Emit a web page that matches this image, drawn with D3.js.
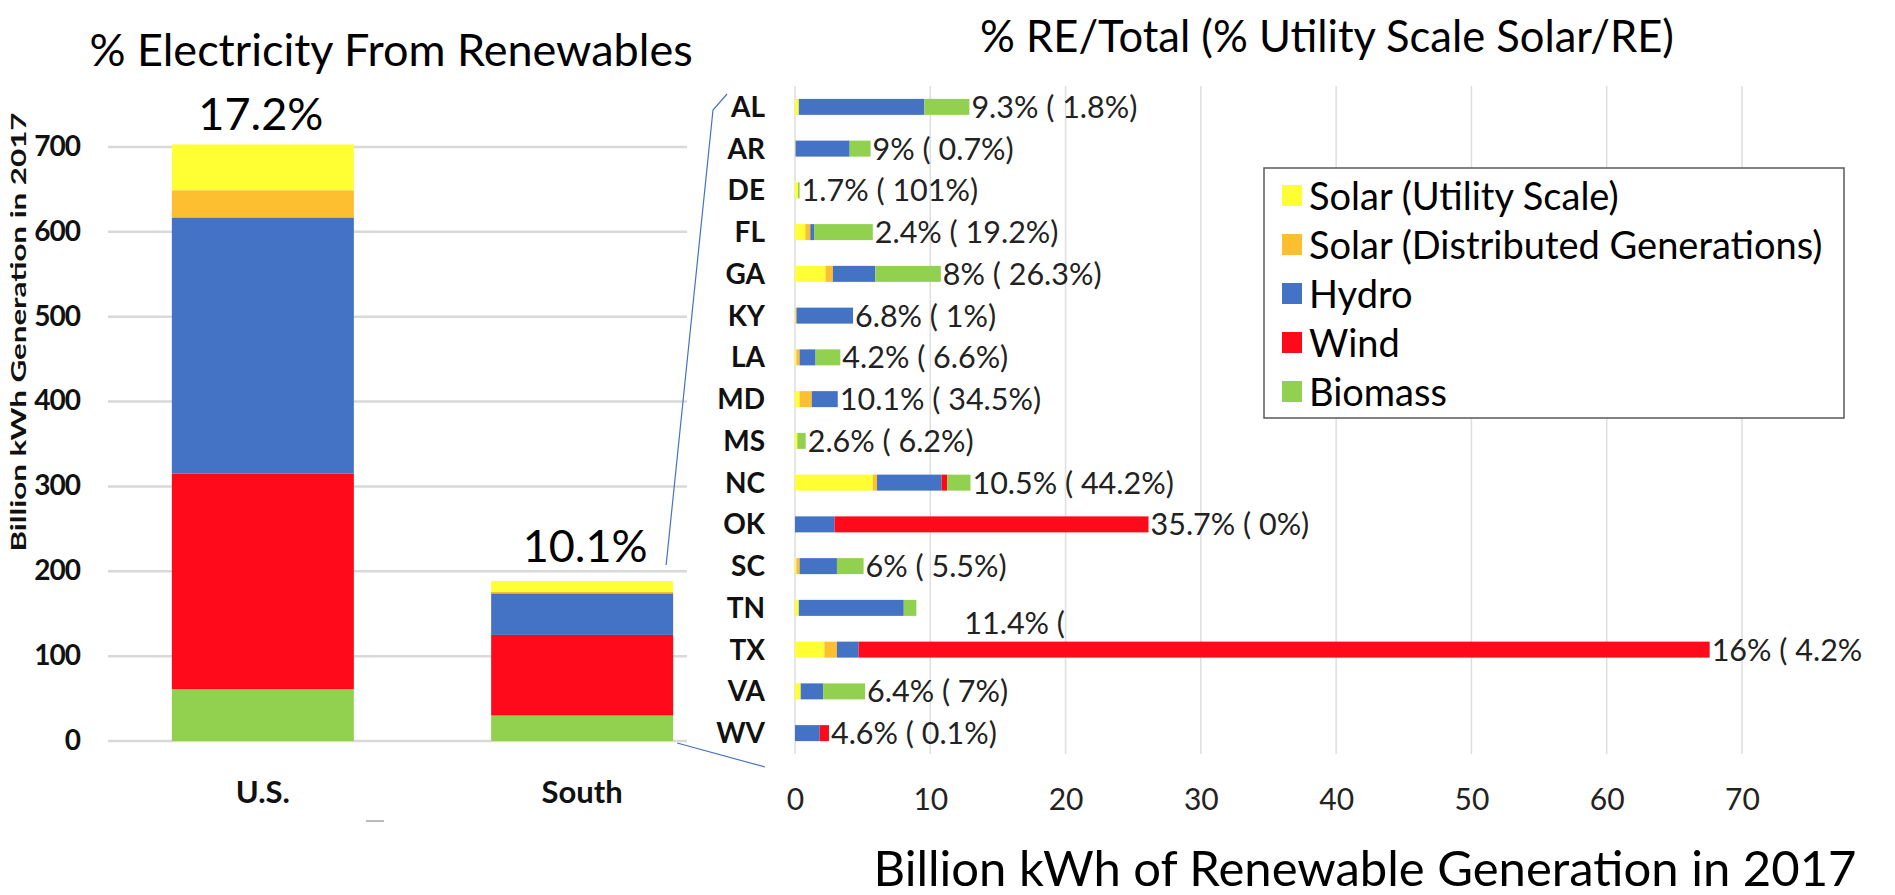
<!DOCTYPE html>
<html>
<head>
<meta charset="utf-8">
<script src="https://cdn.jsdelivr.net/npm/d3@7"></script>
<style>
  body { margin: 0; background: #fff; }
  text { font-family: Lato, "Open Sans", sans-serif; }
</style>
</head>
<body>
<div id="chart"></div>
<script>
// series (drawing order for the state bars, left to right)
var seriesNames = ["Solar (Utility Scale)", "Solar (Distributed Generations)", "Hydro", "Wind", "Biomass"];
var seriesColors = ["#FFFF33", "#FDBE30", "#4472C4", "#FF0A1A", "#92D050"];

// left chart: U.S. vs South, billion kWh
var regions = ["U.S.", "South"];
var regionSolarU = [54, 12.5];
var regionSolarDG = [32, 2];
var regionHydro = [302, 49];
var regionWind = [254, 95];
var regionBiomass = [61, 30];
var regionLabels = ["17.2%", "10.1%"];
var leftTicks = [0, 100, 200, 300, 400, 500, 600, 700];

// right chart: southern states, billion kWh
var states = ["AL", "AR", "DE", "FL", "GA", "KY", "LA", "MD", "MS", "NC", "OK", "SC", "TN", "TX", "VA", "WV"];
var stateSolarU = [0.28, 0.04, 0.22, 0.76, 2.26, 0.05, 0.1, 0.34, 0.17, 5.75, 0, 0.1, 0.28, 2.17, 0.42, 0];
var stateSolarDG = [0, 0, 0, 0.37, 0.54, 0.06, 0.24, 0.9, 0, 0.31, 0, 0.24, 0, 0.93, 0, 0];
var stateHydro = [9.28, 4.0, 0, 0.28, 3.13, 4.18, 1.18, 1.92, 0, 4.77, 2.93, 2.76, 7.76, 1.61, 1.66, 1.83];
var stateWind = [0, 0, 0, 0, 0, 0, 0, 0, 0, 0.42, 23.2, 0, 0, 62.9, 0, 0.68];
var stateBiomass = [3.33, 1.55, 0.12, 4.34, 4.85, 0, 1.83, 0, 0.62, 1.72, 0, 1.97, 0.93, 0, 3.1, 0];
var stateLabels = ["9.3% ( 1.8%)", "9% ( 0.7%)", "1.7% ( 101%)", "2.4% ( 19.2%)", "8% ( 26.3%)",
  "6.8% ( 1%)", "4.2% ( 6.6%)", "10.1% ( 34.5%)", "2.6% ( 6.2%)", "10.5% ( 44.2%)",
  "35.7% ( 0%)", "6% ( 5.5%)", "11.4% (", "16% ( 4.2%", "6.4% ( 7%)", "4.6% ( 0.1%)"];
var rightTicks = [0, 10, 20, 30, 40, 50, 60, 70];

var svgWidth = 1895;
var svgHeight = 895;

var svg = d3.select("#chart")
    .append("svg")
    .attr("width", svgWidth)
    .attr("height", svgHeight);

var keys = ["u", "dg", "h", "w", "b"];
var colorOf = {};
keys.forEach(function (k, i) { colorOf[k] = seriesColors[i]; });

// ---------- left chart ----------
var left = { x0: 108, x1: 687, top: 147, bottom: 741 };

var regionData = regions.map(function (r, i) {
  return { name: r, u: regionSolarU[i], dg: regionSolarDG[i], h: regionHydro[i], w: regionWind[i], b: regionBiomass[i] };
});

var xL = d3.scaleBand()
    .domain(regions)
    .range([108, 737])
    .paddingInner(0.43)
    .paddingOuter(0.2);

var yL = d3.scaleLinear()
    .domain([0, 700])
    .range([left.bottom, left.top]);

// gridlines
svg.append("g")
  .selectAll("line")
  .data(leftTicks)
  .enter()
  .append("line")
    .attr("x1", left.x0)
    .attr("x2", left.x1)
    .attr("y1", d => yL(d))
    .attr("y2", d => yL(d))
    .attr("stroke", "#d9d9d9")
    .attr("stroke-width", 2.5);

// stacked bars, biomass at the bottom
var leftStack = d3.stack().keys(["b", "w", "h", "dg", "u"])(regionData);

svg.append("g")
  .selectAll("g")
  .data(leftStack)
  .enter()
  .append("g")
    .attr("fill", d => colorOf[d.key])
  .selectAll("rect")
  .data(d => d)
  .enter()
  .append("rect")
    .attr("x", d => xL(d.data.name))
    .attr("width", xL.bandwidth())
    .attr("y", d => yL(d[1]))
    .attr("height", d => yL(d[0]) - yL(d[1]));

var leftAxis = svg.append("g")
    .attr("transform", "translate(80,0)")
    .call(d3.axisLeft(yL).tickValues(leftTicks).tickSize(0).tickPadding(0));
leftAxis.select(".domain").remove();
leftAxis.selectAll("text")
    .attr("font-family", "Lato, sans-serif")
    .attr("font-size", 28)
    .attr("font-weight", "bold")
    .attr("letter-spacing", "-1px")
    .attr("fill", "#111")
    .attr("dy", "0.3em");

var catAxis = svg.append("g")
    .attr("transform", "translate(0,803)")
    .call(d3.axisBottom(xL).tickSize(0).tickPadding(0));
catAxis.select(".domain").remove();
catAxis.selectAll("text")
    .attr("font-family", "Lato, sans-serif")
    .attr("font-size", 31)
    .attr("font-weight", "bold")
    .attr("fill", "#111")
    .attr("dy", null)
    .attr("y", 0);

// percentage labels above bars
svg.append("g")
  .selectAll("text")
  .data(regionData)
  .enter()
  .append("text")
    .attr("x", d => xL(d.name) + xL.bandwidth() / 2 + (d.name == "South" ? 3 : -2))
    .attr("y", (d, i) => i == 0 ? 130 : 562)
    .attr("text-anchor", "middle")
    .attr("font-size", 45)
    .text((d, i) => regionLabels[i]);

// y axis title
svg.append("text")
    .attr("transform", "translate(26,332) rotate(-90)")
    .attr("text-anchor", "middle")
    .attr("font-size", 21)
    .attr("font-weight", "bold")
    .attr("fill", "#111")
    .attr("textLength", 439)
    .attr("lengthAdjust", "spacingAndGlyphs")
    .text("Billion kWh Generation in 2017");

svg.append("text")
    .attr("x", 391)
    .attr("y", 66)
    .attr("text-anchor", "middle")
    .attr("font-size", 45)
    .text("% Electricity From Renewables");

// small grey mark left over at the bottom
svg.append("line")
    .attr("x1", 366).attr("x2", 384).attr("y1", 821).attr("y2", 821)
    .attr("stroke", "#bbb").attr("stroke-width", 2);

// ---------- right chart ----------
var stateData = states.map(function (s, i) {
  return { name: s, u: stateSolarU[i], dg: stateSolarDG[i], h: stateHydro[i], w: stateWind[i], b: stateBiomass[i], label: stateLabels[i] };
});

var xR = d3.scaleLinear()
    .domain([0, 70])
    .range([795, 1742]);

var yR = d3.scaleBand()
    .domain(states)
    .range([86, 754])
    .paddingInner(0.617)
    .paddingOuter(0.3085);

svg.append("g")
  .selectAll("line")
  .data(rightTicks)
  .enter()
  .append("line")
    .attr("x1", d => xR(d))
    .attr("x2", d => xR(d))
    .attr("y1", 86)
    .attr("y2", 754)
    .attr("stroke", "#dedede")
    .attr("stroke-width", 1.5);

var rightStack = d3.stack().keys(keys)(stateData);

svg.append("g")
  .selectAll("g")
  .data(rightStack)
  .enter()
  .append("g")
    .attr("fill", d => colorOf[d.key])
  .selectAll("rect")
  .data(d => d)
  .enter()
  .append("rect")
    .attr("y", d => yR(d.data.name))
    .attr("height", yR.bandwidth())
    .attr("x", d => xR(d[0]))
    .attr("width", d => xR(d[1]) - xR(d[0]));

// value labels at the end of each bar (TN's label sits lower, as in the source)
svg.append("g")
  .selectAll("text")
  .data(stateData)
  .enter()
  .append("text")
    .attr("x", function (d) {
      var total = d.u + d.dg + d.h + d.w + d.b;
      return d.name == "TN" ? xR(total) + 48 : xR(total) + 2;
    })
    .attr("y", d => yR(d.name) + yR.bandwidth() / 2 + (d.name == "TN" ? 15 : 0))
    .attr("dy", "0.36em")
    .attr("font-size", 30.5)
    .attr("fill", "#222")
    .text(d => d.label);

var stateAxis = svg.append("g")
    .attr("transform", "translate(765,0)")
    .call(d3.axisLeft(yR).tickSize(0).tickPadding(0));
stateAxis.select(".domain").remove();
stateAxis.selectAll("text")
    .attr("font-family", "Lato, sans-serif")
    .attr("font-size", 28)
    .attr("font-weight", "bold")
    .attr("fill", "#111")
    .attr("dy", "0.36em");

var bottomAxis = svg.append("g")
    .attr("transform", "translate(0,810)")
    .call(d3.axisBottom(xR).tickValues(rightTicks).tickSize(0).tickPadding(0));
bottomAxis.select(".domain").remove();
bottomAxis.selectAll("text")
    .attr("font-family", "Lato, sans-serif")
    .attr("font-size", 30)
    .attr("fill", "#222")
    .attr("dy", null)
    .attr("y", 0);

svg.append("text")
    .attr("x", 1365)
    .attr("y", 886)
    .attr("text-anchor", "middle")
    .attr("font-size", 49)
    .text("Billion kWh of Renewable Generation in 2017");

svg.append("text")
    .attr("x", 1327)
    .attr("y", 52)
    .attr("text-anchor", "middle")
    .attr("font-size", 43.5)
    .text("% RE/Total (% Utility Scale Solar/RE)");

// legend
var legend = svg.append("g").attr("transform", "translate(1264,168)");
legend.append("rect")
    .attr("width", 580)
    .attr("height", 250)
    .attr("fill", "#fff")
    .attr("stroke", "#595959")
    .attr("stroke-width", 1.5);
var item = legend.selectAll(".item")
  .data(seriesNames)
  .enter()
  .append("g")
    .attr("transform", (d, i) => "translate(0," + (28 + i * 49) + ")");
item.append("rect")
    .attr("x", 18)
    .attr("y", -11)
    .attr("width", 20)
    .attr("height", 21)
    .attr("fill", (d, i) => seriesColors[i]);
item.append("text")
    .attr("x", 45)
    .attr("dy", "0.36em")
    .attr("font-size", 38)
    .text(d => d);

// connector lines from the South bar to the state chart
var southRight = xL("South") + xL.bandwidth();
var southTop = yL(regionSolarU[1] + regionSolarDG[1] + regionHydro[1] + regionWind[1] + regionBiomass[1]);
svg.append("polyline")
    .attr("points", [[southRight - 7, southTop - 16], [713, 110], [727, 94]].join(" "))
    .attr("fill", "none")
    .attr("stroke", "#4472C4")
    .attr("stroke-width", 1.2);
svg.append("line")
    .attr("x1", southRight + 4)
    .attr("y1", yL(0) + 2)
    .attr("x2", 765)
    .attr("y2", 767)
    .attr("stroke", "#4472C4")
    .attr("stroke-width", 1.2);
</script>
</body>
</html>
